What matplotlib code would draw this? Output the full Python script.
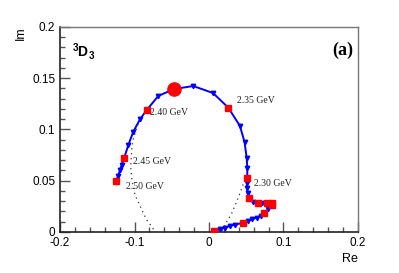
"""
3D3 Argand plot (Re vs Im) — ROOT style recreation
"""

import matplotlib
matplotlib.use('Agg')
import matplotlib.pyplot as plt
from matplotlib.ticker import MultipleLocator

plt.rcParams['mathtext.fontset'] = 'custom'
plt.rcParams['mathtext.rm'] = 'Liberation Sans'
plt.rcParams['mathtext.bf'] = 'Liberation Sans:bold'
plt.rcParams['font.serif'] = ['Liberation Serif', 'DejaVu Serif']

# curve points in energy order (from threshold up to 2.50 GeV)
curve_re = [0.0067, 0.0148, 0.0215, 0.0282, 0.0349, 0.0452, 0.0519, 0.0581, 0.0640, 0.0694,
            0.0742, 0.0796, 0.0842, 0.0846, 0.0783, 0.0718, 0.0654, 0.0591, 0.0541, 0.0517,
            0.0510, 0.0510, 0.0514, 0.0514, 0.0506, 0.0477, 0.0416, 0.0259, 0.0054, -0.0211,
            -0.0470, -0.0681, -0.0836, -0.0926, -0.1016, -0.1083, -0.1137, -0.1172, -0.1195,
            -0.1217, -0.1248]
curve_im = [0.0010, 0.0026, 0.0042, 0.0059, 0.0070, 0.0091, 0.0107, 0.0124, 0.0140, 0.0159,
            0.0188, 0.0221, 0.0259, 0.0286, 0.0286, 0.0283, 0.0286, 0.0288, 0.0329, 0.0380,
            0.0429, 0.0478, 0.0530, 0.0624, 0.0722, 0.0878, 0.1034, 0.1213, 0.1356, 0.1424,
            0.1395, 0.1327, 0.1190, 0.1100, 0.0979, 0.0849, 0.0725, 0.0654, 0.0605,
            0.0551, 0.0498]
# 1 -> measured energy point (red square)
is_energy_pt = [1, 0, 0, 0, 0, 1, 0, 0, 0, 0,
                1, 0, 1, 1, 1, 0, 1, 0, 1, 0,
                0, 0, 1, 0, 0, 0, 0, 1, 0, 0,
                0, 0, 1, 0, 0, 0, 1, 0, 0,
                0, 1]
resonance_idx = 30  # big red dot

# dotted continuation curves
dot_right_re = [0.0174, 0.0238, 0.0305, 0.0372, 0.0416, 0.0456, 0.0503]
dot_right_im = [0.0010, 0.0100, 0.0182, 0.0296, 0.0380, 0.0459, 0.0537]
dot_left_re = [-0.0953, -0.1020, -0.1038, -0.1051, -0.1034, -0.0993, -0.0890, -0.0836, -0.0769, -0.0738]
dot_left_im = [0.1054, 0.0898, 0.0800, 0.0637, 0.0507, 0.0361, 0.0198, 0.0117, 0.0052, 0.0020]

energy_labels = ['2.30 GeV', '2.35 GeV', '2.40 GeV', '2.45 GeV', '2.50 GeV']
energy_label_idx = [22, 27, 32, 36, 40]
label_offsets = [(4.5, -4.5), (6.5, 5.5), (2.5, -1.5), (6.5, -2.5), (7.5, -4)]

fig = plt.figure(figsize=(3.99, 2.73), dpi=100)
ax = fig.add_axes([0.1504, 0.1502, 0.7468, 0.7509])

ax.plot(dot_right_re, dot_right_im, linestyle=(0, (1, 3)), color='#333333', linewidth=0.9)
ax.plot(dot_left_re, dot_left_im, linestyle=(0, (1, 3)), color='#333333', linewidth=0.9)

ax.plot(curve_re, curve_im, color='#0000ff', linewidth=1.4, zorder=3)
blue_re = [r for r, k in zip(curve_re, is_energy_pt) if not k]
blue_im = [m for m, k in zip(curve_im, is_energy_pt) if not k]
ax.plot(blue_re, blue_im, linestyle='none', marker='v', markersize=3.2,
        color='#0000ff', zorder=4)
red_re = [r for r, k in zip(curve_re, is_energy_pt) if k]
red_im = [m for m, k in zip(curve_im, is_energy_pt) if k]
ax.plot(red_re, red_im, linestyle='none', marker='s', markersize=4.3,
        color='#ff0000', zorder=5)
ax.plot(curve_re[resonance_idx], curve_im[resonance_idx], marker='o', markersize=9.5,
        color='#ff0000', zorder=6)

for lab, idx, off in zip(energy_labels, energy_label_idx, label_offsets):
    ax.annotate(lab, xy=(curve_re[idx], curve_im[idx]), xytext=off,
                textcoords='offset points', ha='left', va='center',
                fontsize=7, family='serif', color='#222222')

ax.set_xlim(-0.2, 0.2)
ax.set_ylim(0, 0.2)
ax.xaxis.set_major_locator(MultipleLocator(0.1))
ax.xaxis.set_minor_locator(MultipleLocator(0.02))
ax.yaxis.set_major_locator(MultipleLocator(0.05))
ax.yaxis.set_minor_locator(MultipleLocator(0.01))
ax.xaxis.set_major_formatter(plt.FuncFormatter(lambda v, _: f'{v:g}'))
ax.yaxis.set_major_formatter(plt.FuncFormatter(lambda v, _: f'{v:g}'))
ax.tick_params(which='both', direction='in', top=False, right=False,
               labelsize=8.5, color='#555555', width=1)
ax.tick_params(which='major', length=7)
ax.tick_params(which='minor', length=3.5)
for lbl in ax.get_xticklabels() + ax.get_yticklabels():
    lbl.set_family('Liberation Sans')

for side in ['left', 'bottom']:
    ax.spines[side].set_color('#222222')
    ax.spines[side].set_linewidth(1.2)
for side in ['top', 'right']:
    ax.spines[side].set_color('#777777')
    ax.spines[side].set_linewidth(1.0)

fig.text(0.052, 0.905, 'Im', rotation=90, ha='center', va='top',
         fontsize=9, family='Liberation Sans')
fig.text(0.897, 0.03, 'Re', ha='right', va='bottom',
         fontsize=9, family='Liberation Sans')
ax.text(0.04, 0.93, r'$\mathbf{^{3}D_{3}}$', transform=ax.transAxes,
        ha='left', va='top', fontsize=10)
ax.text(0.985, 0.93, '(a)', transform=ax.transAxes, ha='right', va='top',
        fontsize=13, fontweight='bold', family='serif')

fig.savefig('out.png', dpi=100, facecolor='white')
plt.close(fig)
